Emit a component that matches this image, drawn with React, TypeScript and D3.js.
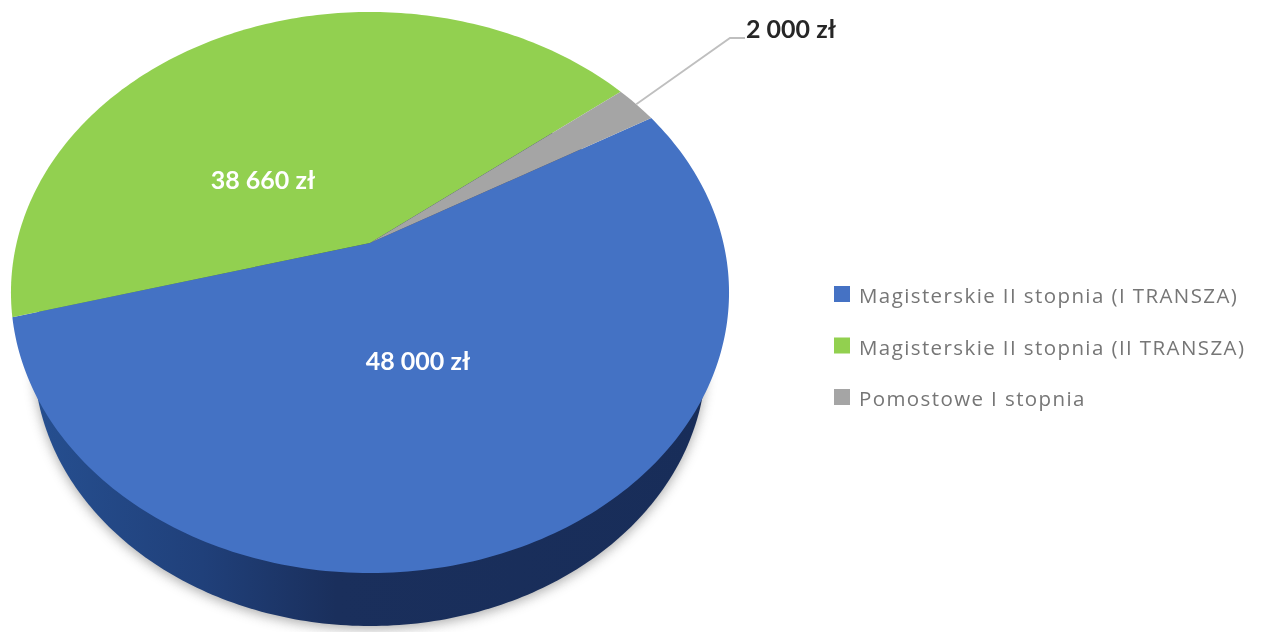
import React from "react";
import * as d3 from "d3";

const categories = ["Magisterskie II stopnia (I TRANSZA)", "Magisterskie II stopnia (II TRANSZA)", "Pomostowe I stopnia"];
const values = [48000, 38660, 2000];
const valueLabels = ["48 000 zł", "38 660 zł", "2 000 zł"];
const colors = ["#4472c4", "#92d050", "#a5a5a5"];

const W = 1262, H = 632;
// perspective disc: vertex of the slices, radii and foreshortening
const vx = 370, vy = 243, a = 353.4, b = 271.8, k = 0.1765;
const rad = Math.PI / 180;

function project(cw: number): [number, number] {
  const X = Math.sin(cw), Y = Math.cos(cw), w = 1 + k * Y;
  return [vx + (a * X) / w, vy - (b * Y) / w];
}

const pie = d3.pie<number>().sort(null).startAngle(60 * rad).endAngle(420 * rad);
const arcs = pie(values);
const line = d3.line();

function slicePath(s: number, e: number) {
  const n = Math.max(2, Math.ceil((e - s) / rad));
  const pts = d3.range(n + 1).map((i) => project(s + ((e - s) * i) / n));
  return line([[vx, vy], ...pts])! + "Z";
}

// bottom rim of the extruded disc
const rimCx = 370, rimCy = 358, rimRx = 336, rimRy = 268;
const sweep = d3.range(0, 360, 1).map((d) => d * rad);
const rimPts = sweep.map((t): [number, number] => [rimCx + rimRx * Math.sin(t), rimCy - rimRy * Math.cos(t)]);
const wallPath = line(rimPts)! + "Z";

const legendY = d3.scalePoint<string>().domain(categories).range([294, 397]);
const labelPos: [number, number, string][] = [
  [418, 370, "#ffffff"],
  [263, 189, "#ffffff"],
  [746, 38, "#262626"],
];

export default function App() {
  return (
    <svg width={W} height={H} viewBox={`0 0 ${W} ${H}`} style={{ position: "absolute", left: 0, top: 0, background: "#fff" }}>
      <defs>
        <linearGradient id="wall" x1="0" x2="1" y1="0" y2="0">
          <stop offset="0" stopColor="#264f90" />
          <stop offset="0.25" stopColor="#20407a" />
          <stop offset="0.45" stopColor="#1a2f5c" />
          <stop offset="1" stopColor="#182d59" />
        </linearGradient>
        <filter id="shadow" x="-10%" y="-10%" width="120%" height="120%">
          <feGaussianBlur stdDeviation="6" />
        </filter>
        <filter id="soft" x="-5%" y="-20%" width="110%" height="140%">
          <feGaussianBlur stdDeviation="0.35" />
        </filter>
      </defs>
      <path d={wallPath} fill="#8a8a8a" opacity={0.7} filter="url(#shadow)" transform="translate(0,3)" />
      <path d={wallPath} fill="url(#wall)" />
      {arcs.map((d, i) => (
        <path key={i} d={slicePath(d.startAngle, d.endAngle)} fill={colors[i]} />
      ))}
      <path d={line([project(arcs[2].startAngle + 0.07), [730, 38], [745, 38]])!} fill="none" stroke="#bfbfbf" strokeWidth={1.8} />
      <g filter="url(#soft)">
        {valueLabels.map((t, i) => (
          <text
            key={t}
            x={labelPos[i][0]}
            y={labelPos[i][1]}
            textAnchor={i === 2 ? "start" : "middle"}
            fill={labelPos[i][2]}
            fontFamily="Lato, sans-serif"
            fontWeight={700}
            fontSize={25}
          >
            {t}
          </text>
        ))}
        {categories.map((c, i) => (
          <g key={c} transform={`translate(0,${legendY(c)})`}>
            <rect x={834} y={-8} width={16} height={16} fill={colors[i]} />
            <text x={859} y={9} fill="#767676" fontFamily="'Open Sans', sans-serif" fontSize={20.5} letterSpacing={1.4}>
              {c}
            </text>
          </g>
        ))}
      </g>
    </svg>
  );
}
